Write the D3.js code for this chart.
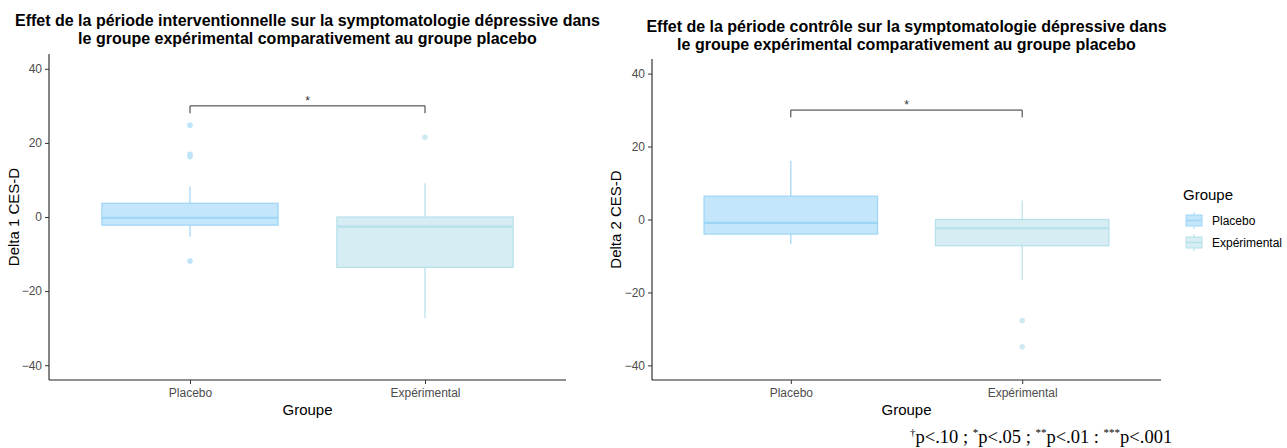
<!DOCTYPE html>
<html>
<head>
<meta charset="utf-8">
<script src="https://cdn.jsdelivr.net/npm/d3@7"></script>
<style>
  html, body { margin: 0; padding: 0; background: #fff; }
  svg { display: block; font-family: "Liberation Sans", Arial, sans-serif; }
</style>
</head>
<body>
<svg id="chart" width="1287" height="448"></svg>
<script>
// ---------- DATA ----------
const groups = ["Placebo", "Expérimental"];
const yTicks = [-40, -20, 0, 20, 40];

// Panel 1 : période interventionnelle (Delta 1 CES-D)
const p1Low    = [-5.3, -27.3];
const p1Q1     = [-2.2, -13.6];
const p1Median = [-0.2, -2.6];
const p1Q3     = [3.7, 0];
const p1High   = [8.2, 9.1];
const p1Outliers = [[24.8, 16.9, 16.3, -11.9], [21.5]];

// Panel 2 : période contrôle (Delta 2 CES-D)
const p2Low    = [-6.7, -16.6];
const p2Q1     = [-4.0, -7.2];
const p2Median = [-0.9, -2.4];
const p2Q3     = [6.4, 0];
const p2High   = [16.1, 5.2];
const p2Outliers = [[], [-27.7, -34.9]];

const titles1 = ["Effet de la période interventionnelle sur la symptomatologie dépressive dans",
                 "le groupe expérimental comparativement au groupe placebo"];
const titles2 = ["Effet de la période contrôle sur la symptomatologie dépressive dans",
                 "le groupe expérimental comparativement au groupe placebo"];
const yTitle1 = "Delta 1 CES-D";
const yTitle2 = "Delta 2 CES-D";
const xTitle = "Groupe";
const legendTitle = "Groupe";
const signifLabel = "*";
const bracketY = 30, bracketTip = 28;

// ---------- STYLE ----------
const fills   = { "Placebo": "#c4e6fb", "Expérimental": "#d6edf4" };
const strokes = { "Placebo": "#9dd5f7", "Expérimental": "#b6e0eb" };
const dots    = { "Placebo": "#bfe4fa", "Expérimental": "#cfe9f2" };

const svg = d3.select("#chart");
svg.append("rect").attr("width", 1287).attr("height", 448).attr("fill", "#fff");

function panel(cfg) {
  const { left, right, top, bottom, titleLines, titleBase, yTitle, yTitleX, stats } = cfg;
  const x = d3.scalePoint().domain(groups).range([left, right]).padding(0.6);
  const y = d3.scaleLinear().domain([-44, 44]).range([bottom, top]);
  const bw = x.step() * 0.75;
  const g = svg.append("g");

  // title
  titleLines.forEach((t, i) => {
    g.append("text").attr("x", (left + right) / 2).attr("y", titleBase + i * 18)
      .attr("text-anchor", "middle").attr("font-size", 16).attr("font-weight", "bold")
      .attr("fill", "#000").text(t);
  });

  // axes
  const yAxis = d3.axisLeft(y).tickValues(yTicks).tickSize(4).tickPadding(3);
  const ya = g.append("g").attr("transform", `translate(${left},0)`).call(yAxis);
  const xAxis = d3.axisBottom(x).tickSize(4).tickPadding(4);
  const xa = g.append("g").attr("transform", `translate(0,${bottom})`).call(xAxis);
  [ya, xa].forEach(a => {
    a.attr("font-family", null);
    a.select(".domain").attr("stroke", "#222").attr("stroke-width", 1.1);
    a.selectAll(".tick line").attr("stroke", "#333").attr("stroke-width", 1);
    a.selectAll(".tick text").attr("fill", "#4d4d4d").attr("font-size", 12);
  });
  ya.select(".domain").attr("d", `M0,${bottom}V${top}`);
  xa.select(".domain").attr("d", `M${left},0H${right}`);

  // axis titles
  g.append("text").attr("x", (left + right) / 2).attr("y", bottom + 35)
    .attr("text-anchor", "middle").attr("font-size", 15).attr("fill", "#000").text(xTitle);
  g.append("text").attr("transform", `translate(${yTitleX},${(top + bottom) / 2}) rotate(-90)`)
    .attr("text-anchor", "middle").attr("font-size", 15).attr("fill", "#000").text(yTitle);

  // boxes
  groups.forEach((grp, i) => {
    const cx = x(grp);
    const s = strokes[grp];
    g.append("line").attr("x1", cx).attr("x2", cx).attr("y1", y(stats.high[i])).attr("y2", y(stats.q3[i]))
      .attr("stroke", s).attr("stroke-width", 1.2);
    g.append("line").attr("x1", cx).attr("x2", cx).attr("y1", y(stats.q1[i])).attr("y2", y(stats.low[i]))
      .attr("stroke", s).attr("stroke-width", 1.2);
    g.append("rect").attr("x", cx - bw / 2).attr("width", bw)
      .attr("y", y(stats.q3[i])).attr("height", y(stats.q1[i]) - y(stats.q3[i]))
      .attr("fill", fills[grp]).attr("stroke", s).attr("stroke-width", 1.2);
    g.append("line").attr("x1", cx - bw / 2).attr("x2", cx + bw / 2)
      .attr("y1", y(stats.median[i])).attr("y2", y(stats.median[i]))
      .attr("stroke", s).attr("stroke-width", 2.2);
    stats.outliers[i].forEach(v => {
      g.append("circle").attr("cx", cx).attr("cy", y(v)).attr("r", 2.8).attr("fill", dots[grp]);
    });
  });

  // significance bracket
  const x1 = x(groups[0]), x2 = x(groups[1]);
  g.append("path")
    .attr("d", `M${x1},${y(bracketTip)}V${y(bracketY)}H${x2}V${y(bracketTip)}`)
    .attr("fill", "none").attr("stroke", "#333").attr("stroke-width", 1);
  g.append("text").attr("x", (x1 + x2) / 2).attr("y", y(bracketY) - 1)
    .attr("text-anchor", "middle").attr("font-size", 12).attr("fill", "#333").text(signifLabel);
}

panel({ left: 49, right: 566, top: 54, bottom: 380, titleLines: titles1, titleBase: 26,
  yTitle: yTitle1, yTitleX: 19,
  stats: { low: p1Low, q1: p1Q1, median: p1Median, q3: p1Q3, high: p1High, outliers: p1Outliers } });

panel({ left: 652, right: 1161, top: 59, bottom: 380, titleLines: titles2, titleBase: 32,
  yTitle: yTitle2, yTitleX: 621,
  stats: { low: p2Low, q1: p2Q1, median: p2Median, q3: p2Q3, high: p2High, outliers: p2Outliers } });

// ---------- LEGEND ----------
const lg = svg.append("g").attr("transform", "translate(1183,0)");
lg.append("text").attr("x", 0).attr("y", 200).attr("font-size", 15).attr("fill", "#000").text(legendTitle);
groups.forEach((grp, i) => {
  const ky = 212 + i * 22;
  const k = lg.append("g").attr("transform", `translate(2,${ky})`);
  k.append("line").attr("x1", 9).attr("x2", 9).attr("y1", 0).attr("y2", 17)
    .attr("stroke", strokes[grp]).attr("stroke-width", 1);
  k.append("rect").attr("x", 1).attr("y", 3).attr("width", 16).attr("height", 11)
    .attr("fill", fills[grp]).attr("stroke", strokes[grp]).attr("stroke-width", 1);
  k.append("line").attr("x1", 1).attr("x2", 17).attr("y1", 8.5).attr("y2", 8.5)
    .attr("stroke", strokes[grp]).attr("stroke-width", 1.5);
  lg.append("text").attr("x", 29).attr("y", ky + 13).attr("font-size", 12).attr("fill", "#000").text(grp);
});

// ---------- FOOTNOTE ----------
const foot = [["†", "p<.10 ; "], ["*", "p<.05 ; "], ["**", "p<.01 : "], ["***", "p<.001"]];
const ft = svg.append("text").attr("x", 910).attr("y", 443)
  .style("font-family", "'Liberation Serif', 'Times New Roman', serif").attr("font-size", 18.5).attr("fill", "#000");
foot.forEach(([sup, txt]) => {
  ft.append("tspan").attr("dy", -7).attr("font-size", 11).text(sup);
  ft.append("tspan").attr("dy", 7).text(txt);
});
</script>
</body>
</html>
